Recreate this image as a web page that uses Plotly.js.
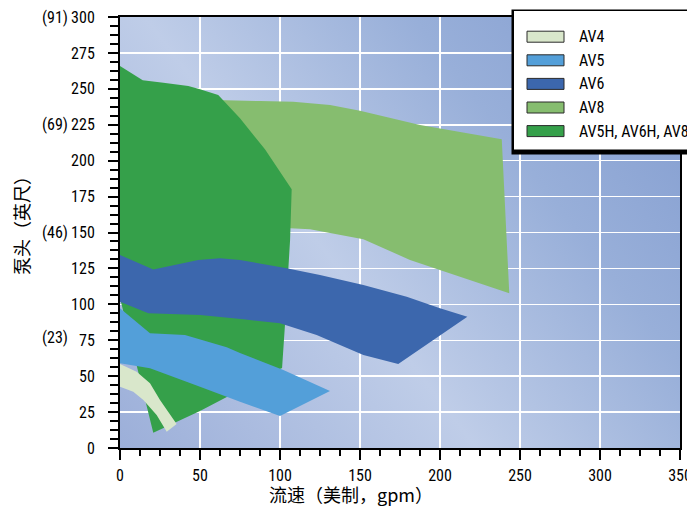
<!DOCTYPE html>
<html>
<head>
<meta charset="utf-8">
<script src="https://cdn.plot.ly/plotly-3.0.1.min.js"></script>
<style>html,body{margin:0;padding:0;background:#fff;}#chart{width:687px;height:508px;}</style>
</head>
<body>
<div id="chart"></div>
<script>
// ---- data (flow in US gpm, head in feet) ----
const seriesNames = ['AV4', 'AV5', 'AV6', 'AV8', 'AV5H, AV6H, AV8H'];
const seriesColors = ['#d9e7cb', '#539fd9', '#3c67ad', '#86bd6f', '#35a04a'];

const av4X = [0, 10.4, 18.75, 25, 35.4, 29.2, 22.9, 14.6, 8.3, 0];
const av4Y = [58.5, 53.1, 45.0, 33.4, 16.7, 11.3, 23.0, 33.4, 39.2, 42.7];

const av5X = [0, 18.75, 40.6, 66.7, 75, 102.1, 131.25, 100, 75, 50, 18.75, 0];
const av5Y = [97.2, 79.8, 78.7, 70.1, 66.1, 54.3, 39.7, 22.3, 32.2, 42.7, 55.5, 59.0];

const av6X = [0, 20.8, 48.9, 62.5, 75, 104.2, 125, 152.1, 179.2, 200, 217.1, 173.9, 152.1, 122.9, 100, 77.1, 50, 17.7, 0];
const av6Y = [134.3, 124.3, 130.9, 132.0, 130.9, 125.1, 120.4, 113.5, 105.3, 97.2, 91.4, 58.5, 64.7, 78.7, 86.8, 89.6, 92.6, 93.8, 101.8];

const av8X = [59.4, 87.5, 108.3, 131.3, 150, 187.5, 238.6, 243.3, 181.25, 152.1, 118.75, 106.25, 59.4];
const av8Y = [242.2, 241.5, 241.0, 238.7, 234.8, 224.8, 214.9, 107.7, 130.9, 145.3, 152.2, 152.9, 155.2];

const avhX = [0, 14.2, 27.1, 42.7, 50, 61.4, 75, 90.6, 107.3, 106.3, 103.1, 101.3, 50, 20.8, 0];
const avhY = [265.9, 256.0, 254.3, 252.0, 249.7, 245.7, 229.5, 207.9, 180.1, 144.8, 85.6, 55.7, 25.8, 10.6, 104.4];

// metre equivalents shown beside the feet tick labels
const metreLabels = ['(91)', '(69)', '(46)', '(23)'];
const metreAtFeet = [300, 225, 150, 77];

const xTitle = '流速（美制，gpm）';
const yTitle = '泵头（英尺）';

// ---- layout helpers ----
const W = 687, H = 508, L = 120, R = 7, T = 17, B = 60;
const PW = W - L - R, PH = H - T - B;
const px2x = p => (p - L) / PW;
const py2y = p => (H - B - p) / PH;

const numFont = 'Liberation Sans Narrow, Roboto Condensed, Liberation Sans, Arial, sans-serif';
const cjkFont = 'Noto Sans CJK SC, Noto Sans, sans-serif';

function poly(x, y, color, name) {
  return {type: 'scatter', x: x, y: y, mode: 'none', fill: 'toself', fillcolor: color,
          name: name, showlegend: false, hoverinfo: 'name'};
}

const traces = [
  poly(av8X, av8Y, seriesColors[3], seriesNames[3]),
  poly(avhX, avhY, seriesColors[4], seriesNames[4]),
  poly(av6X, av6Y, seriesColors[2], seriesNames[2]),
  poly(av5X, av5Y, seriesColors[1], seriesNames[1]),
  poly(av4X, av4Y, seriesColors[0], seriesNames[0])
];

// background gradient
const svg = "<svg xmlns='http://www.w3.org/2000/svg' width='" + PW + "' height='" + PH + "' viewBox='0 0 " + PW + " " + PH + "' preserveAspectRatio='none'>" +
  "<defs><linearGradient id='g' gradientUnits='userSpaceOnUse' x1='0' y1='" + PH + "' x2='" + PW + "' y2='0'>" +
  "<stop offset='0' stop-color='#9cafd9'/><stop offset='0.4' stop-color='#bfcde8'/>" +
  "<stop offset='0.7' stop-color='#98afd9'/><stop offset='1' stop-color='#819bcf'/></linearGradient></defs>" +
  "<rect width='" + PW + "' height='" + PH + "' fill='url(#g)'/></svg>";

const shapes = [];
const annotations = [];

// manual legend box
shapes.push({type: 'rect', xref: 'paper', yref: 'paper', layer: 'above',
  x0: px2x(511.5), x1: px2x(705), y0: py2y(154.5), y1: py2y(9.5),
  fillcolor: '#000', line: {width: 0}});
shapes.push({type: 'rect', xref: 'paper', yref: 'paper', layer: 'above',
  x0: px2x(514), x1: px2x(705), y0: py2y(149.5), y1: py2y(11),
  fillcolor: '#fff', line: {width: 0}});
seriesNames.forEach((n, i) => {
  const cy = 36.7 + i * 23.6;
  shapes.push({type: 'rect', xref: 'paper', yref: 'paper', layer: 'above',
    x0: px2x(527), x1: px2x(564), y0: py2y(cy + 5.5), y1: py2y(cy - 5.5),
    fillcolor: seriesColors[i], line: {color: '#2a2a2a', width: 1}});
  annotations.push({xref: 'paper', yref: 'paper', x: px2x(577), y: py2y(cy),
    xanchor: 'left', yanchor: 'middle', text: n, showarrow: false,
    font: {family: numFont, size: 16, color: '#000'}});
});

// metre labels
metreLabels.forEach((t, i) => {
  annotations.push({xref: 'paper', yref: 'y', x: px2x(70), y: metreAtFeet[i],
    xanchor: 'right', yanchor: 'middle', text: t, showarrow: false,
    font: {family: numFont, size: 16, color: '#000'}});
});

// axis titles
annotations.push({xref: 'paper', yref: 'paper', x: px2x(351), y: py2y(494),
  xanchor: 'center', yanchor: 'middle', text: xTitle, showarrow: false,
  font: {family: cjkFont, size: 18, color: '#000'}});
annotations.push({xref: 'paper', yref: 'paper', x: px2x(21), y: py2y(221),
  xanchor: 'center', yanchor: 'middle', text: yTitle, showarrow: false, textangle: -90,
  font: {family: cjkFont, size: 18, color: '#000'}});

const layout = {
  width: W, height: H,
  margin: {l: L, r: R, t: T, b: B, pad: 0},
  paper_bgcolor: '#fff', plot_bgcolor: 'rgba(0,0,0,0)',
  showlegend: false,
  xaxis: {
    range: [0, 350], tickmode: 'linear', tick0: 0, dtick: 50,
    ticks: 'outside', ticklen: 10, tickwidth: 2, tickcolor: '#000',
    ticklabelstandoff: 2, ticklabeloverflow: 'allow',
    showgrid: true, gridcolor: '#fff', gridwidth: 1.5,
    zeroline: false, showline: true, linecolor: '#000', linewidth: 2, mirror: true,
    tickfont: {family: numFont, size: 16, color: '#000'},
    minor: {dtick: 12.5, tick0: 0, ticks: 'outside', ticklen: 6, tickwidth: 2, tickcolor: '#000', showgrid: false}
  },
  xaxis2: {
    range: [0, 350], overlaying: 'x', anchor: 'y', side: 'bottom',
    tickmode: 'linear', tick0: 25, dtick: 50,
    ticks: 'outside', ticklen: 10, tickwidth: 2, tickcolor: '#000',
    showticklabels: false, showgrid: false, zeroline: false, showline: false
  },
  yaxis: {
    range: [0, 300], tickmode: 'linear', tick0: 0, dtick: 25,
    ticks: 'outside', ticklen: 10, tickwidth: 2, tickcolor: '#000',
    ticklabelstandoff: 10,
    showgrid: true, gridcolor: '#fff', gridwidth: 1.5,
    zeroline: false, showline: true, linecolor: '#000', linewidth: 2, mirror: true,
    tickfont: {family: numFont, size: 16, color: '#000'},
    minor: {dtick: 6.25, tick0: 0, ticks: 'outside', ticklen: 8, tickwidth: 2, tickcolor: '#000', showgrid: false}
  },
  images: [{
    source: 'data:image/svg+xml;charset=utf-8,' + encodeURIComponent(svg),
    xref: 'paper', yref: 'paper', x: 0, y: 1, sizex: 1, sizey: 1,
    xanchor: 'left', yanchor: 'top', sizing: 'stretch', layer: 'below'
  }],
  shapes: shapes,
  annotations: annotations
};

Plotly.newPlot('chart', traces, layout, {displayModeBar: false, staticPlot: true});
</script>
</body>
</html>
